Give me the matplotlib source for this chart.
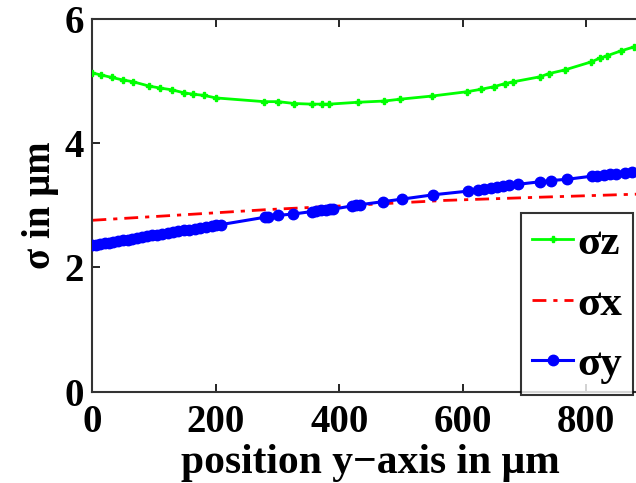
import matplotlib
matplotlib.use("Agg")
import matplotlib.pyplot as plt

# ── data ──────────────────────────────────────────────────────────────────────
z_pos = [0, 14, 31, 49, 66, 92, 109, 129, 149, 163, 181, 200, 278, 301, 327,
         355, 372, 384, 430, 473, 499, 550, 607, 630, 650, 668, 682, 725, 739,
         765, 808, 822, 834, 857, 877]
sigma_z = [5.13, 5.10, 5.06, 5.02, 4.99, 4.92, 4.89, 4.86, 4.81, 4.79, 4.77,
           4.73, 4.67, 4.67, 4.64, 4.63, 4.63, 4.63, 4.66, 4.68, 4.71, 4.76,
           4.83, 4.87, 4.91, 4.96, 4.99, 5.07, 5.12, 5.18, 5.31, 5.37, 5.41,
           5.49, 5.55]

x_pos = [0, 150, 280, 420, 571, 720, 880, 900]
sigma_x = [2.76, 2.85, 2.93, 3.00, 3.08, 3.13, 3.18, 3.19]

y_pos = [0, 6, 13, 20, 27, 34, 42, 50, 57, 64, 72, 80, 88, 97, 105, 113, 122,
         130, 139, 148, 157, 166, 175, 184, 193, 201, 208,
         280, 284, 301, 325, 355, 362, 370, 378, 385, 390, 420, 427, 433, 471,
         501, 552, 609, 625, 635, 645, 655, 665, 675, 690, 725, 743, 769, 809,
         818, 828, 838, 848, 862, 874]
sigma_y = [2.36, 2.37, 2.38, 2.39, 2.40, 2.41, 2.43, 2.44, 2.45, 2.46, 2.48,
           2.49, 2.50, 2.52, 2.53, 2.54, 2.56, 2.57, 2.58, 2.60, 2.61, 2.62,
           2.64, 2.65, 2.67, 2.68, 2.69,
           2.81, 2.82, 2.84, 2.86, 2.90, 2.91, 2.92, 2.93, 2.94, 2.94, 2.99,
           3.00, 3.01, 3.06, 3.10, 3.17, 3.23, 3.25, 3.27, 3.28, 3.29, 3.31,
           3.32, 3.34, 3.38, 3.40, 3.42, 3.47, 3.48, 3.49, 3.50, 3.51, 3.52,
           3.53]

x_ticks = [0, 200, 400, 600, 800]
y_ticks = [0, 2, 4, 6]

# ── style ─────────────────────────────────────────────────────────────────────
plt.rcParams['font.family'] = ['Liberation Serif', 'DejaVu Serif']
plt.rcParams['font.weight'] = 'bold'

fig = plt.figure(figsize=(6.36, 4.83), dpi=100)
# axes runs a little past the right edge (reference is cropped there)
ax = fig.add_axes([0.1453, 0.189, 0.8736, 0.7716])

ax.plot(z_pos, sigma_z, color='#00ff00', lw=2, marker='P', ms=5,
        label='\u03c3z', zorder=3)
ax.plot(x_pos, sigma_x, color='#ff0000', lw=2, ls=(0, (5, 2.5, 1.5, 2.5)),
        label='\u03c3x', zorder=2)
ax.plot(y_pos, sigma_y, color='#0000ff', lw=2.2, marker='o', ms=7.5,
        label='\u03c3y', zorder=4)

ax.set_xlim(0, 900)
ax.set_ylim(0, 6)
ax.set_xticks(x_ticks)
ax.set_yticks(y_ticks)
ax.tick_params(direction='in', length=6, width=1.2, labelsize=28,
               top=True, right=False)
ax.tick_params(axis='x', pad=9)
ax.tick_params(axis='y', pad=6)
for lbl in ax.get_xticklabels() + ax.get_yticklabels():
    lbl.set_fontweight('bold')
for s in ax.spines.values():
    s.set_linewidth(1.5)
    s.set_color('#333333')

ax.set_xlabel('position y\u2212axis in \u03bcm', fontsize=30, fontweight='bold',
              labelpad=2)
ax.set_ylabel('\u03c3 in \u03bcm', fontsize=28, fontweight='bold', labelpad=4)

leg = ax.legend(loc='lower right', bbox_to_anchor=(633 / 636, 88 / 483),
                bbox_transform=fig.transFigure, fontsize=31, frameon=True,
                fancybox=False, borderaxespad=0, handlelength=0.95,
                handletextpad=0.1, labelspacing=0.5, borderpad=0.25)
leg.get_frame().set_edgecolor('black')
leg.get_frame().set_linewidth(1.5)
for t in leg.get_texts():
    t.set_fontweight('bold')

fig.savefig('out.png', dpi=100)
